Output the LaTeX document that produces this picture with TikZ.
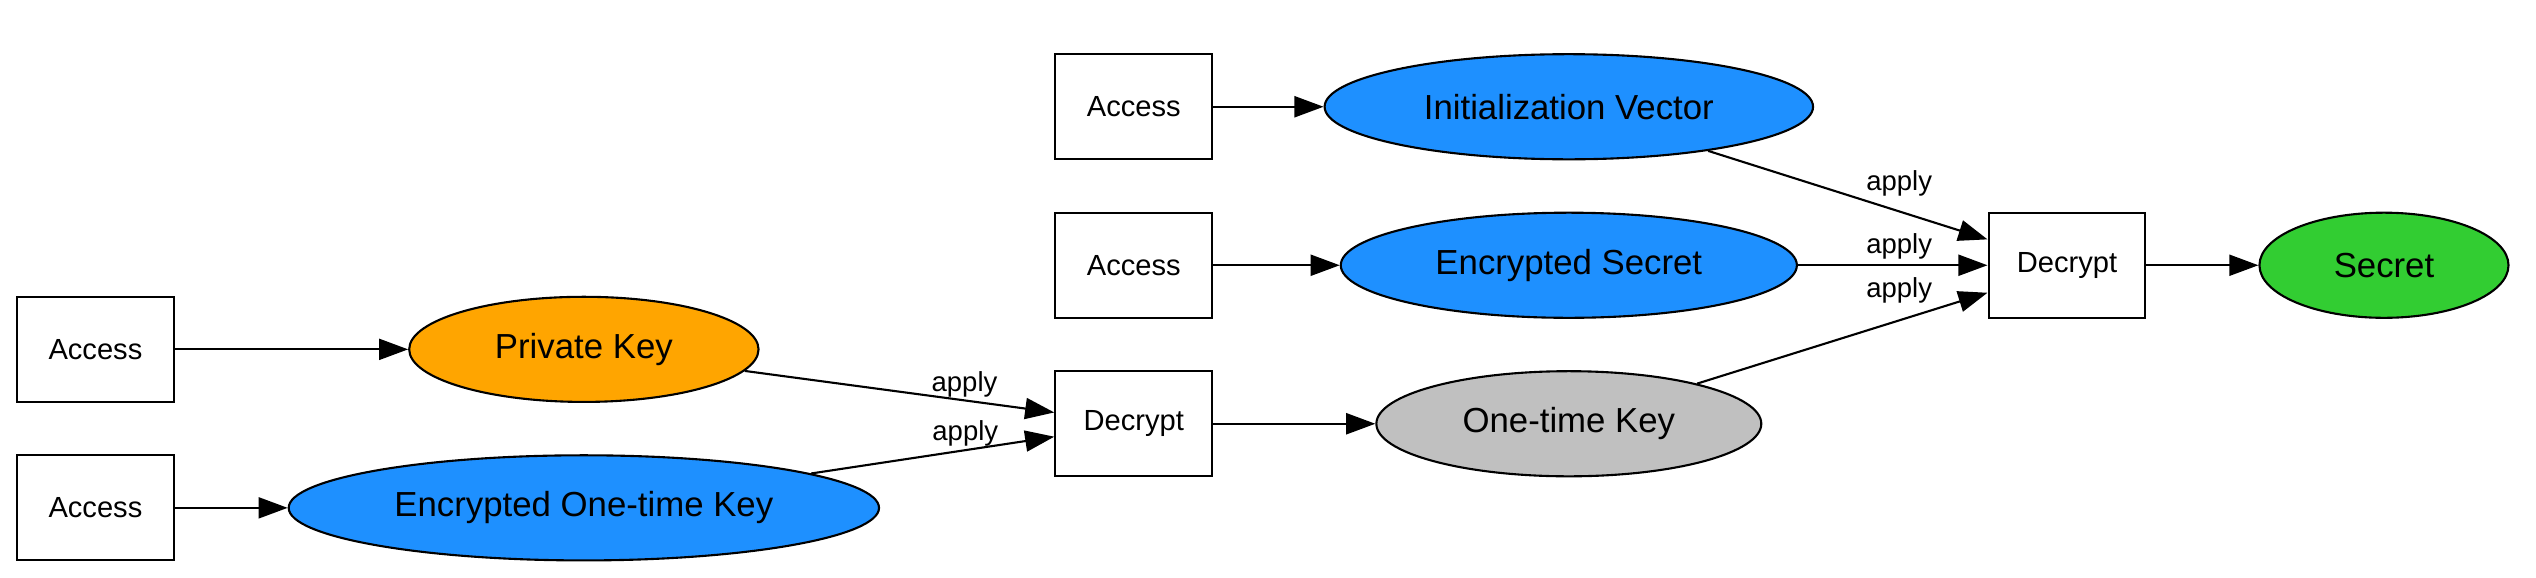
\documentclass[tikz,border=0pt]{standalone}
\usepackage{fontspec}
\setmainfont{Liberation Sans}
\usetikzlibrary{arrows.meta,shapes.geometric}
\definecolor{gvblue}{HTML}{1E90FF}
\definecolor{gvorange}{HTML}{FFA500}
\definecolor{gvgreen}{HTML}{32CD32}
\definecolor{gvgray}{HTML}{C0C0C0}
\begin{document}
\begin{tikzpicture}[x=1pt,y=-1pt,
  box/.style={draw,line width=1.3pt,minimum width=97pt,minimum height=65pt,inner sep=0pt,font=\fontsize{18}{20}\selectfont},
  ell/.style={draw,ellipse,line width=1.3pt,inner sep=0pt,minimum height=65pt,font=\fontsize{21.5}{24}\selectfont},
  arr/.style={line width=1.3pt,-{Triangle[length=18pt,width=13pt]}},
  lbl/.style={font=\fontsize{17}{19}\selectfont,inner sep=0pt}]
\useasboundingbox (0,0) rectangle (1568,357);
% nodes
\node[box] (acc1) at (59,216) {Access};
\node[ell,fill=gvorange,minimum width=216pt] (pk) at (361,216) {Private Key};
\node[box] (acc2) at (59,314) {Access};
\node[ell,fill=gvblue,minimum width=365pt] (eotk) at (361,314) {Encrypted One-time Key};
\node[box] (dec1) at (701,262) {Decrypt};
\node[ell,fill=gvgray,minimum width=238pt] (otk) at (970,262) {One-time Key};
\node[box] (acc3) at (701,66) {Access};
\node[ell,fill=gvblue,minimum width=302pt] (iv) at (970,66) {Initialization Vector};
\node[box] (acc4) at (701,164) {Access};
\node[ell,fill=gvblue,minimum width=282pt] (es) at (970,164) {Encrypted Secret};
\node[box] (dec2) at (1278,164) {Decrypt};
\node[ell,fill=gvgreen,minimum width=154pt] (sec) at (1474,164) {Secret};
% edge targets
\coordinate (d1a) at ([yshift=7pt]dec1.west);
\coordinate (d1b) at ([yshift=-8pt]dec1.west);
\coordinate (d2a) at ([yshift=16pt]dec2.west);
\coordinate (d2b) at (dec2.west);
\coordinate (d2c) at ([yshift=-17pt]dec2.west);
% edges
\draw[arr] (acc1) -- (pk);
\draw[arr] (acc2) -- (eotk);
\draw[arr] (pk) -- (d1a) node[lbl,pos=0.71,above=1.5pt] (l1) {apply};
\draw[arr] (eotk) -- (d1b) node[lbl,pos=0.634,above=2pt] (l2) {apply};
\draw[arr] (dec1) -- (otk);
\draw[arr] (acc3) -- (iv);
\draw[arr] (acc4) -- (es);
\draw[arr] (iv) -- (d2a) node[lbl,pos=0.684,above=8.6pt] (l3) {apply};
\draw[arr] (es) -- (d2b) node[lbl,pos=0.534,above=3pt] (l4) {apply};
\draw[arr] (otk) -- (d2c) node[lbl,pos=0.696,above=10pt] (l5) {apply};
\draw[arr] (dec2) -- (sec);
\end{tikzpicture}
\end{document}
